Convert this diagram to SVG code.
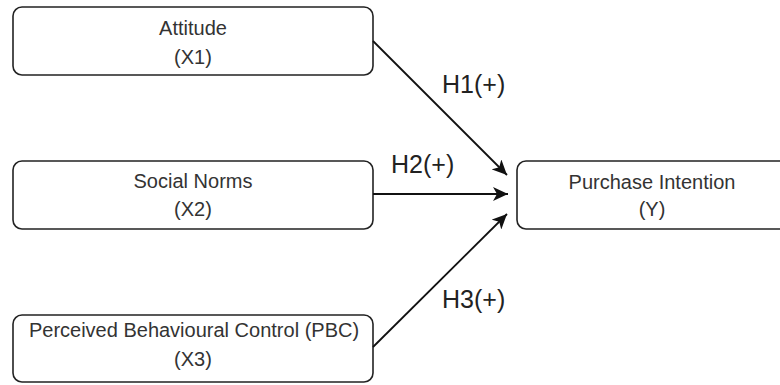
<svg xmlns="http://www.w3.org/2000/svg" width="780" height="385" viewBox="0 0 780 385">
<style>
.box{fill:#fff;stroke:#222;stroke-width:1.6}
.t{font-family:"Liberation Sans",Arial,sans-serif;font-size:20px;fill:#333;text-anchor:middle}
.lbl{font-family:"Liberation Sans",Arial,sans-serif;font-size:25px;fill:#222;text-anchor:start}
.edge{fill:none;stroke:#111;stroke-width:1.8}
</style>
<defs>
<marker id="arr" markerUnits="userSpaceOnUse" markerWidth="18" markerHeight="14" refX="15" refY="7" orient="auto">
<path d="M0,0 L15,7 L0,14 L4,7 Z" fill="#111"/>
</marker>
</defs>
<rect width="780" height="385" fill="#fff"/>
<g id="attitude">
<rect class="box" x="13" y="7" width="360" height="68" rx="9"/>
<text class="t" x="193" y="35">Attitude</text>
<text class="t" x="193" y="64">(X1)</text>
</g>
<g id="social-norms">
<rect class="box" x="13" y="161" width="360" height="68" rx="9"/>
<text class="t" x="193" y="188">Social Norms</text>
<text class="t" x="193" y="216">(X2)</text>
</g>
<g id="pbc">
<rect class="box" x="13" y="315" width="360" height="67" rx="9"/>
<text class="t" x="194" y="337">Perceived Behavioural Control (PBC)</text>
<text class="t" x="193" y="366">(X3)</text>
</g>
<g id="purchase-intention">
<rect class="box" x="517" y="161" width="272" height="68" rx="9"/>
<text class="t" x="652" y="189">Purchase Intention</text>
<text class="t" x="652" y="216">(Y)</text>
</g>
<g id="connectors">
<line class="edge" x1="373" y1="41" x2="507" y2="175" marker-end="url(#arr)"/>
<line class="edge" x1="373" y1="194" x2="508" y2="194" marker-end="url(#arr)"/>
<line class="edge" x1="373" y1="347" x2="507" y2="214" marker-end="url(#arr)"/>
<text class="lbl" x="442" y="93">H1(+)</text>
<text class="lbl" x="391" y="173">H2(+)</text>
<text class="lbl" x="442" y="308">H3(+)</text>
</g>
</svg>
